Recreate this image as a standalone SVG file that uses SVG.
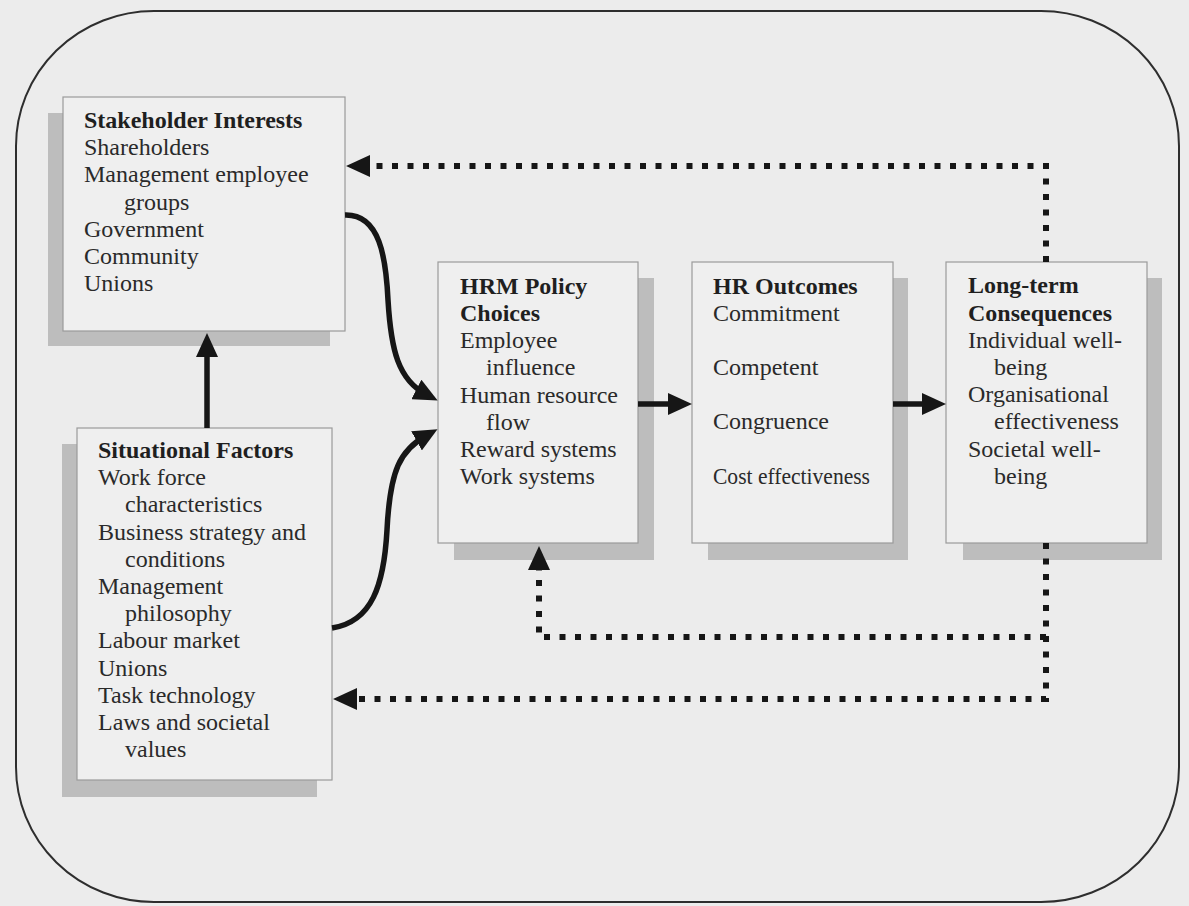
<svg xmlns="http://www.w3.org/2000/svg" width="1189" height="906" viewBox="0 0 1189 906">
  <style>
    .bg { fill: #ececec; }
    .frame { fill: none; stroke: #2e2e2e; stroke-width: 2; }
    .box { fill: #efefef; stroke: #9a9a9a; stroke-width: 1.2; }
    .shadow { fill: #bdbdbd; }
    text { font-family: "Liberation Serif", "Times New Roman", serif; font-size: 24px; fill: #2a2a2a; }
    .h { font-weight: bold; fill: #1f1f1f; }
    .solid { fill: none; stroke: #161616; stroke-width: 5.5; }
    .dotted { fill: none; stroke: #161616; stroke-width: 6; stroke-dasharray: 6 9.5; }
  </style>
  <defs>
    <marker id="head" markerUnits="userSpaceOnUse" viewBox="0 0 24 22" markerWidth="24" markerHeight="22" refX="12" refY="11" orient="auto">
      <path d="M0,0 L24,11 L0,22 z" fill="#161616"/>
    </marker>
  </defs>

  <rect class="bg" x="0" y="0" width="1189" height="906"/>
  <rect class="frame" x="16" y="11" width="1163" height="891" rx="138" ry="135"/>

  <g id="stakeholder-interests">
    <rect class="shadow" x="48" y="113" width="282" height="233"/>
    <rect class="box" x="63" y="97" width="282" height="234"/>
    <text class="h" x="84" y="128">Stakeholder Interests</text>
    <text x="84" y="155">Shareholders</text>
    <text x="84" y="182">Management employee</text>
    <text x="124" y="210">groups</text>
    <text x="84" y="237">Government</text>
    <text x="84" y="264">Community</text>
    <text x="84" y="291">Unions</text>
  </g>

  <g id="situational-factors">
    <rect class="shadow" x="62" y="444" width="255" height="353"/>
    <rect class="box" x="77" y="428" width="255" height="352"/>
    <text class="h" x="98" y="458">Situational Factors</text>
    <text x="98" y="485">Work force</text>
    <text x="125" y="512">characteristics</text>
    <text x="98" y="540">Business strategy and</text>
    <text x="125" y="567">conditions</text>
    <text x="98" y="594">Management</text>
    <text x="125" y="621">philosophy</text>
    <text x="98" y="648">Labour market</text>
    <text x="98" y="676">Unions</text>
    <text x="98" y="703">Task technology</text>
    <text x="98" y="730">Laws and societal</text>
    <text x="125" y="757">values</text>
  </g>

  <g id="hrm-policy-choices">
    <rect class="shadow" x="454" y="278" width="200" height="282"/>
    <rect class="box" x="438" y="262" width="200" height="281"/>
    <text class="h" x="460" y="294">HRM Policy</text>
    <text class="h" x="460" y="321">Choices</text>
    <text x="460" y="348">Employee</text>
    <text x="486" y="375">influence</text>
    <text x="460" y="403">Human resource</text>
    <text x="486" y="430">flow</text>
    <text x="460" y="457">Reward systems</text>
    <text x="460" y="484">Work systems</text>
  </g>

  <g id="hr-outcomes">
    <rect class="shadow" x="708" y="278" width="200" height="282"/>
    <rect class="box" x="692" y="262" width="201" height="281"/>
    <text class="h" x="713" y="294">HR Outcomes</text>
    <text x="713" y="321">Commitment</text>
    <text x="713" y="375">Competent</text>
    <text x="713" y="429">Congruence</text>
    <text x="713" y="484" textLength="157" lengthAdjust="spacingAndGlyphs">Cost effectiveness</text>
  </g>

  <g id="long-term-consequences">
    <rect class="shadow" x="963" y="278" width="199" height="282"/>
    <rect class="box" x="946" y="262" width="201" height="281"/>
    <text class="h" x="968" y="293">Long-term</text>
    <text class="h" x="968" y="321">Consequences</text>
    <text x="968" y="348">Individual well-</text>
    <text x="994" y="375">being</text>
    <text x="968" y="402">Organisational</text>
    <text x="994" y="429">effectiveness</text>
    <text x="968" y="457">Societal well-</text>
    <text x="994" y="484">being</text>
  </g>

  <g id="connectors">
    <!-- situational factors shape stakeholder interests -->
    <path class="solid" d="M207,428 V345" marker-end="url(#head)"/>
    <!-- both inputs curve into policy choices -->
    <path class="solid" d="M345,215 C380,214 386,258 388,300 C391,350 398,380 427,395" marker-end="url(#head)"/>
    <path class="solid" d="M332,628 C372,622 384,585 387,530 C390,470 400,450 427,435" marker-end="url(#head)"/>
    <!-- main chain -->
    <path class="solid" d="M638,404 H680" marker-end="url(#head)"/>
    <path class="solid" d="M893,404 H934" marker-end="url(#head)"/>
    <!-- feedback loops -->
    <path class="dotted" d="M1046,262 V166 H358" marker-end="url(#head)"/>
    <path class="dotted" d="M1046,543 V699 H345" marker-end="url(#head)"/>
    <path class="dotted" d="M1046,637 H539 V558" marker-end="url(#head)"/>
  </g>
</svg>
